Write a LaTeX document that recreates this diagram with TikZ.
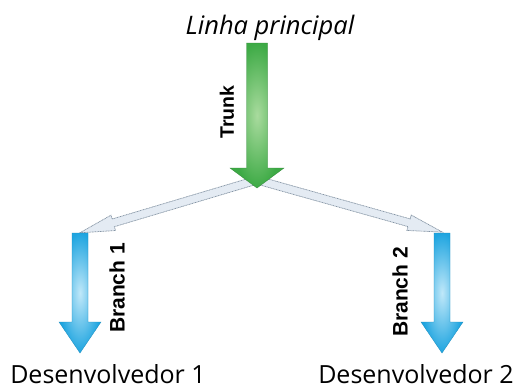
\documentclass[tikz,border=0pt]{standalone}
\usepackage{fontspec}
\setmainfont{Open Sans}
\newfontfamily\labelfont{Liberation Sans}
\usetikzlibrary{calc}
\definecolor{trunkdark}{HTML}{3DAA45}
\definecolor{trunklight}{HTML}{A9DB9E}
\definecolor{branchdark}{HTML}{1FA5E0}
\definecolor{branchlight}{HTML}{C0E8F9}
\definecolor{forkfill}{HTML}{E4EBF3}
\definecolor{forkline}{HTML}{8494A4}
\tikzset{
  trunkarrow/.style={inner color=trunklight, outer color=trunkdark, draw=trunkdark!80!black, line width=0.3pt},
  brancharrow/.style={inner color=branchlight, outer color=branchdark, draw=branchdark!85!black, line width=0.3pt},
  forkarrow/.style={fill=forkfill, draw=forkline, line width=0.7pt, dash pattern=on 1pt off 0.6pt},
  devlabel/.style={font=\fontsize{25}{28}\selectfont, inner sep=0pt, anchor=base},
  titlelabel/.style={font=\fontsize{25.5}{28}\selectfont\itshape, inner sep=0pt, anchor=base},
  streamlabel/.style={font=\labelfont\bfseries\fontsize{19.5}{22}\selectfont, rotate=90, inner sep=0pt},
  branchlabel/.style={streamlabel, font=\labelfont\bfseries\fontsize{21}{24}\selectfont}
}
\begin{document}
\begin{tikzpicture}[x=1pt,y=1pt]
\useasboundingbox[fill=white] (0,0) rectangle (514,-388);

% anchor points of the three streams
\coordinate (trunktop) at (257,-43);
\coordinate (split) at (257,-180);
\coordinate (b1top) at (80,-233);
\coordinate (b2top) at (442,-233);

% forks from the trunk to the two branches
\begin{scope}[shift={(split)}, rotate=196.6]
  \draw[forkarrow] (0,-4) -- (150,-4) -- (150,-8) -- (184.8,0) -- (150,8) -- (150,4) -- (0,4) -- cycle;
\end{scope}
\begin{scope}[shift={(split)}, rotate=-15.7]
  \draw[forkarrow] (0,-4) -- (158,-4) -- (158,-8) -- (192.5,0) -- (158,8) -- (158,4) -- (0,4) -- cycle;
\end{scope}

% trunk arrow
\draw[trunkarrow] ($(trunktop)+(-10.5,0)$) -- ($(trunktop)+(10.5,0)$) -- ($(trunktop)+(10.5,-125)$)
  -- ($(trunktop)+(27,-125)$) -- ($(trunktop)+(0,-145)$) -- ($(trunktop)+(-27,-125)$)
  -- ($(trunktop)+(-10.5,-125)$) -- cycle;

% branch arrows
\draw[brancharrow] ($(b1top)+(-8,0)$) -- ($(b1top)+(8,0)$) -- ($(b1top)+(8,-89)$)
  -- ($(b1top)+(21,-89)$) -- ($(b1top)+(0,-120)$) -- ($(b1top)+(-21,-89)$)
  -- ($(b1top)+(-8,-89)$) -- cycle;
\draw[brancharrow] ($(b2top)+(-8,0)$) -- ($(b2top)+(8,0)$) -- ($(b2top)+(8,-89)$)
  -- ($(b2top)+(21,-89)$) -- ($(b2top)+(0,-120)$) -- ($(b2top)+(-21,-89)$)
  -- ($(b2top)+(-8,-89)$) -- cycle;

% labels
\node[titlelabel] (main) at (270,-34) {Linha principal};
\node[streamlabel] (trunk) at (227,-112) {Trunk};
\node[branchlabel] (branch1) at (117,-288) {Branch 1};
\node[branchlabel] (branch2) at (400,-292) {Branch 2};
\node[devlabel] (dev1) at (108,-383) {Desenvolvedor 1};
\node[devlabel] (dev2) at (416,-383) {Desenvolvedor 2};
\end{tikzpicture}
\end{document}
